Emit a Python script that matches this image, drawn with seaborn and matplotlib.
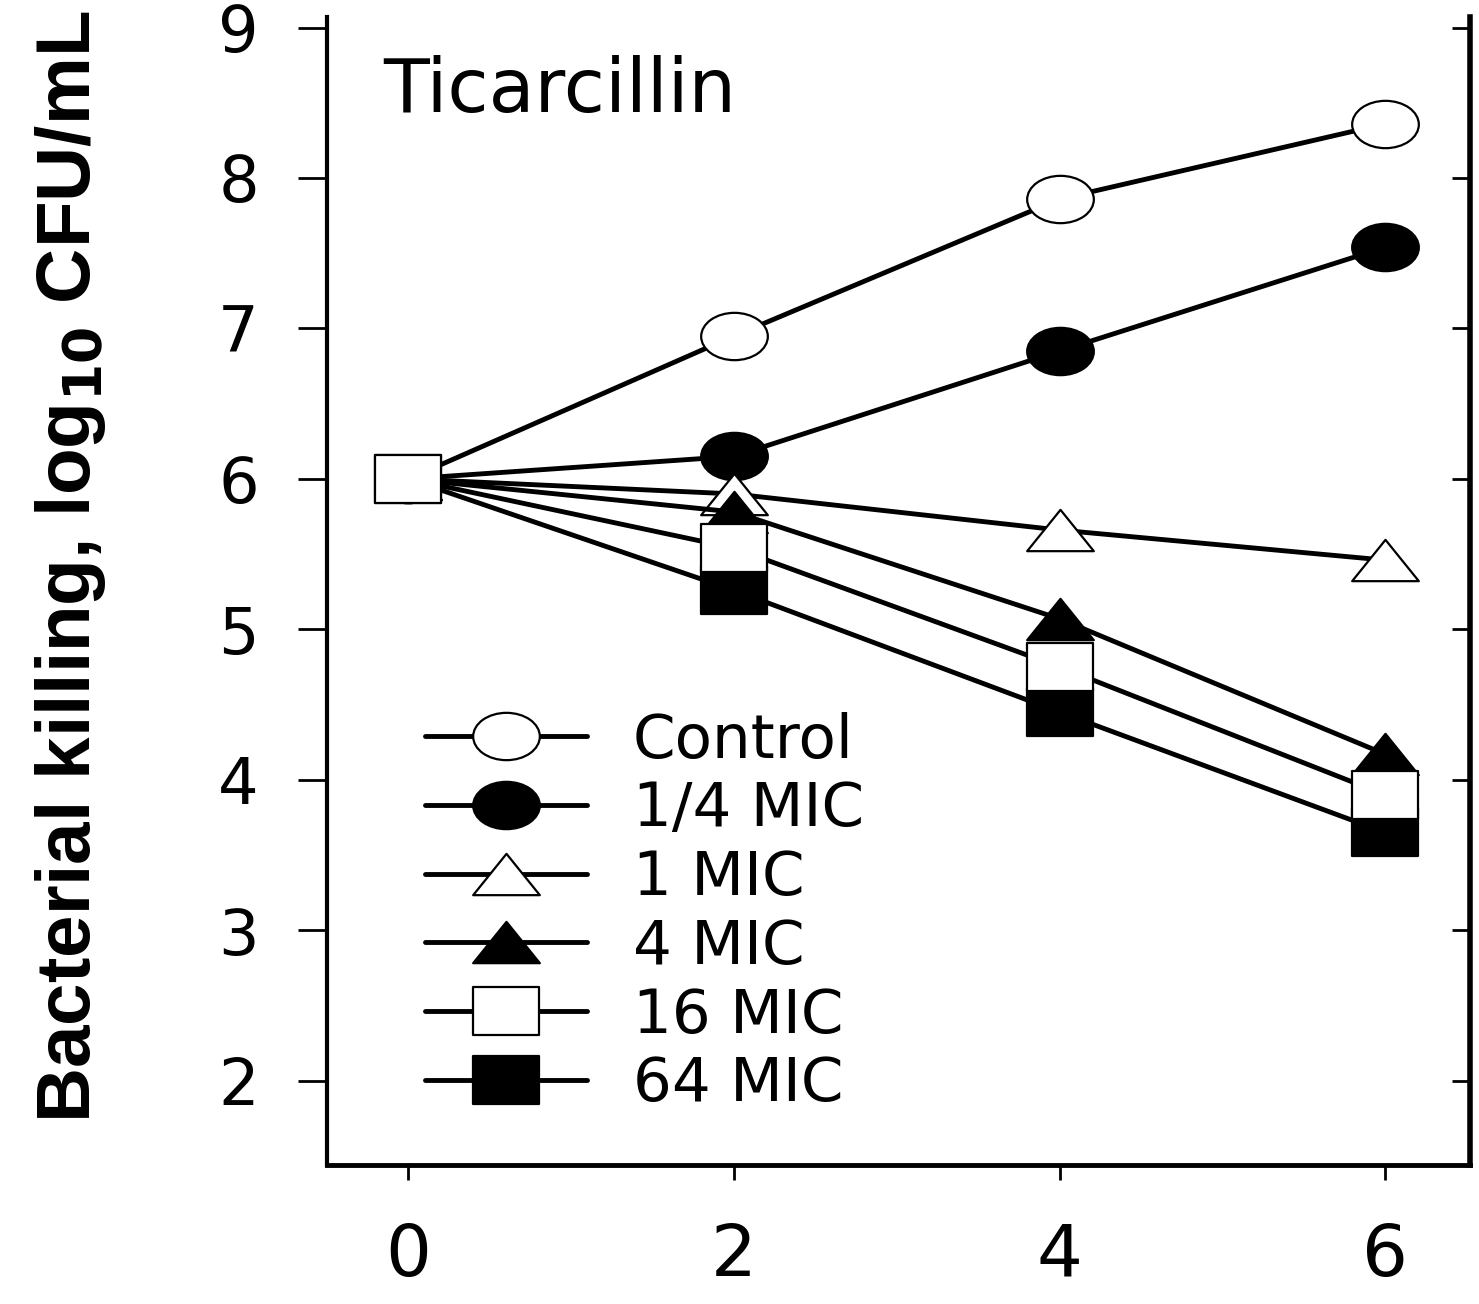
import matplotlib
matplotlib.use("Agg")
import matplotlib.pyplot as plt
from matplotlib import font_manager
from matplotlib.path import Path
from matplotlib.transforms import Affine2D
import seaborn as sns

# Time-kill data (hours vs log10 CFU/mL)
hours = [0, 2, 4, 6]
control = [6.0, 6.95, 7.86, 8.36]
mic_quarter = [6.0, 6.15, 6.85, 7.54]
mic_1 = [6.0, 5.90, 5.66, 5.46]
mic_4 = [6.0, 5.78, 5.07, 4.17]
mic_16 = [6.0, 5.54, 4.75, 3.90]
mic_64 = [6.0, 5.26, 4.45, 3.65]
series_labels = ["Control", "1/4 MIC", "1 MIC", "4 MIC", "16 MIC", "64 MIC"]
x_ticks = [0, 2, 4, 6]
y_ticks = [2, 3, 4, 5, 6, 7, 8, 9]
drug_name = "Ticarcillin"
y_title = "Bacterial killing, log$_{10}$ CFU/mL"

sns.set_style("ticks")
plt.rcParams["font.family"] = ["DejaVu Sans"]
plt.rcParams["mathtext.default"] = "bf"
for key in ("text.color", "axes.labelcolor", "axes.edgecolor",
            "xtick.color", "ytick.color"):
    plt.rcParams[key] = "black"

# Flattened marker shapes (wider than tall)
ellipse = Path.unit_circle().transformed(Affine2D().scale(1.0, 0.71))
triangle = Path([(-1, -0.62), (1, -0.62), (0, 0.62), (-1, -0.62)], closed=True)
box = Path([(-1, -0.71), (1, -0.71), (1, 0.71), (-1, 0.71), (-1, -0.71)], closed=True)

styles = [
    (control, ellipse, "white", 3),
    (mic_quarter, ellipse, "black", 3),
    (mic_1, triangle, "white", 3),
    (mic_4, triangle, "black", 3),
    (mic_16, box, "white", 5),
    (mic_64, box, "black", 4),
]

fig = plt.figure(figsize=(14.79, 13.04), dpi=100)
ax = fig.add_axes([327 / 1479, 139 / 1304, (1470 - 327) / 1479, (1165 - 17) / 1304])

for (vals, mk, fc, z), lab in zip(styles, series_labels):
    sns.lineplot(x=hours, y=vals, ax=ax, color="black", lw=3.5, marker=mk,
                 markersize=48, markerfacecolor=fc, markeredgecolor="black",
                 markeredgewidth=1.6, label=lab, zorder=z)

ax.set_xlim(-0.5, 6.52)
ax.set_ylim(1.44, 9.07)
ax.set_xticks(x_ticks)
ax.set_yticks(y_ticks)
ax.set_xlabel("")

for side in ("top", "right"):
    ax.spines[side].set_visible(False)
ax.spines["left"].set_linewidth(3)
ax.spines["bottom"].set_linewidth(3.5)

ax.tick_params(axis="x", labelsize=52, length=11, width=2, pad=30, direction="out")
ax.tick_params(axis="y", labelsize=46, length=21, width=2, pad=28, direction="out")

# Right-hand axis with inward ticks only
ax2 = ax.twinx()
ax2.set_ylim(ax.get_ylim())
ax2.set_yticks(y_ticks)
ax2.tick_params(axis="y", direction="in", length=13, width=2, labelright=False)
for side in ("top", "left", "bottom"):
    ax2.spines[side].set_visible(False)
ax2.spines["right"].set_linewidth(4)

ax.text(0.049, 0.917, drug_name, transform=ax.transAxes, fontsize=54,
        ha="left", va="baseline")

available = {f.name for f in font_manager.fontManager.ttflist}
if "Liberation Sans Narrow" in available:
    lab_family, lab_size = "Liberation Sans Narrow", 66
else:
    lab_family, lab_size = "Liberation Sans", 55
ax.set_ylabel(y_title, fontsize=lab_size, fontweight="bold", family=lab_family)
ax.yaxis.set_label_coords(-0.2248, 0.521)
ax.yaxis.label.set_verticalalignment("center")

leg = ax.legend(loc="upper left", bbox_to_anchor=(0.0857, 0.395), frameon=False,
                fontsize=44, handlelength=2.65, handletextpad=0.75,
                labelspacing=0.16, borderpad=0, borderaxespad=0)

fig.savefig("out.png", dpi=100)
